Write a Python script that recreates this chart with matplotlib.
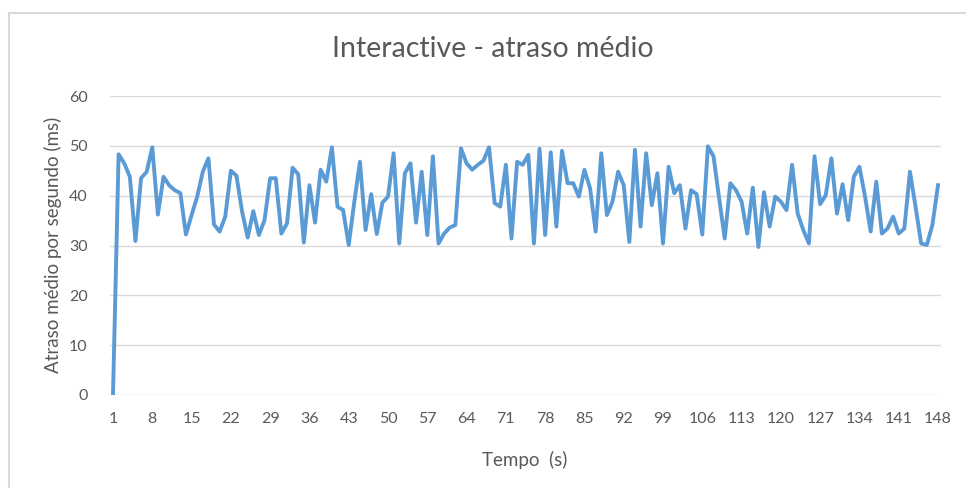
import matplotlib.pyplot as plt
from matplotlib.lines import Line2D

plt.rcParams["font.family"] = ["Lato", "DejaVu Sans"]

# average delay per second (ms), one value per second from 1 to 148
tempo = list(range(1, 149))
atraso = [
    0.0, 48.3, 46.5, 43.8, 30.9, 43.5, 44.8, 49.7, 36.2, 43.8,
    42.1, 41.1, 40.5, 32.2, 36.1, 39.8, 44.8, 47.5, 34.2, 32.8,
    35.8, 45.0, 44.0, 36.8, 31.6, 36.9, 32.1, 35.1, 43.5, 43.5,
    32.4, 34.4, 45.6, 44.3, 30.6, 42.1, 34.6, 45.2, 42.8, 49.7,
    37.8, 37.1, 30.1, 38.8, 46.8, 33.1, 40.3, 32.3, 38.6, 39.8,
    48.5, 30.4, 44.5, 46.5, 34.6, 44.8, 32.1, 47.9, 30.4, 32.4,
    33.6, 34.1, 49.5, 46.5, 45.2, 46.2, 47.0, 49.7, 38.5, 37.8,
    46.2, 31.4, 46.8, 46.2, 48.2, 30.4, 49.4, 32.1, 48.7, 33.8,
    49.0, 42.5, 42.5, 39.8, 45.2, 41.5, 32.8, 48.5, 36.1, 38.8,
    44.8, 42.1, 30.7, 49.2, 33.8, 48.5, 38.1, 44.5, 30.4, 45.8,
    40.5, 42.1, 33.4, 41.1, 40.3, 32.2, 49.9, 47.9, 39.5, 31.4,
    42.5, 41.1, 38.8, 32.4, 41.6, 29.7, 40.7, 33.8, 39.8, 38.8,
    37.1, 46.2, 36.4, 33.1, 30.4, 47.9, 38.3, 40.1, 47.5, 36.4,
    42.3, 35.1, 43.8, 45.8, 39.8, 32.8, 42.8, 32.4, 33.4, 35.8,
    32.4, 33.4, 44.8, 37.8, 30.4, 30.1, 34.1, 42.1,
]
xticks = list(range(1, 149, 7))
yticks = [0, 10, 20, 30, 40, 50, 60]

text_color = "#595959"
grid_color = "#D9D9D9"
line_color = "#5B9BD5"

W, H = 966, 488
fig = plt.figure(figsize=(W / 100, H / 100), dpi=100)

# chart frame: only top and left edges fall inside the image
fig.add_artist(Line2D([8.5 / W, 8.5 / W], [0, 1 - 12.5 / H], color=grid_color, lw=1.5))
fig.add_artist(Line2D([8.5 / W, 1], [1 - 12.5 / H, 1 - 12.5 / H], color=grid_color, lw=1.5))

left, right = 110, 941
top, bottom = 96, 395
ax = fig.add_axes([left / W, 1 - bottom / H, (right - left) / W, (bottom - top) / H])

ax.plot(tempo, atraso, color=line_color, lw=2.8, solid_joinstyle="round")

px_per_unit = (938 - 113) / 147
ax.set_xlim(1 - 3 / px_per_unit, 148 + 3 / px_per_unit)
ax.set_ylim(0, 60)
ax.set_xticks(xticks)
ax.set_xticklabels([str(t) for t in xticks])
ax.set_yticks(yticks)

ax.grid(axis="y", color=grid_color, lw=1)
ax.set_axisbelow(True)
for s in ax.spines.values():
    s.set_visible(False)
ax.tick_params(length=0, labelsize=11.5, colors=text_color)
ax.tick_params(axis="x", pad=12)
ax.tick_params(axis="y", pad=16)

fig.text(493 / W, 1 - 49 / H, "Interactive - atraso médio", ha="center", va="center",
         fontsize=20.5, color=text_color)
fig.text(525 / W, 1 - 460 / H, "Tempo  (s)", ha="center", va="center",
         fontsize=13.5, color=text_color)
fig.text(53 / W, 1 - 245 / H, "Atraso médio por segundo (ms)", ha="center", va="center",
         rotation=90, fontsize=13.5, color=text_color)

fig.savefig("out.png", dpi=100)
